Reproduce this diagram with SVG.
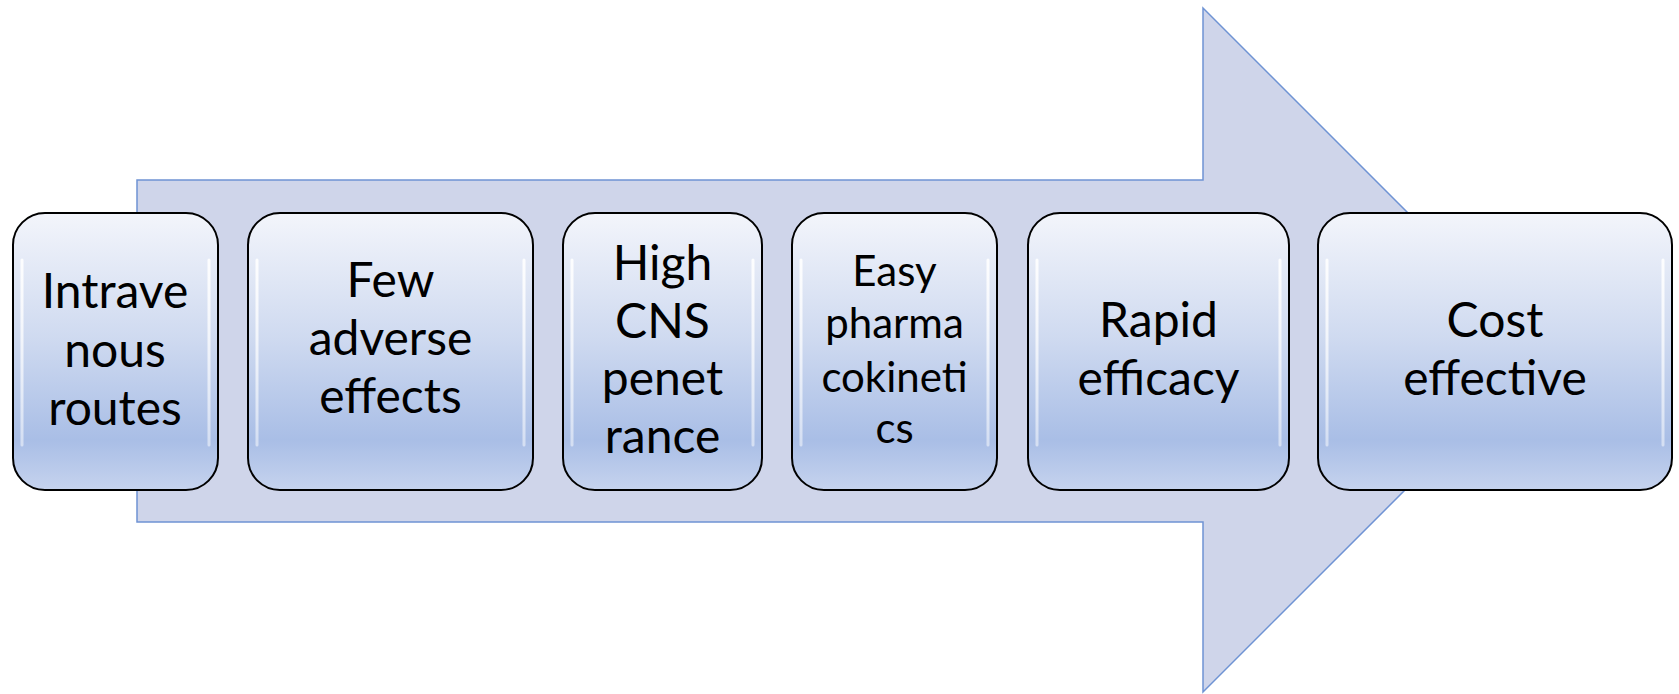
<svg xmlns="http://www.w3.org/2000/svg" width="1679" height="694" viewBox="0 0 1679 694">
<defs>
<linearGradient id="boxFill" x1="0" y1="0" x2="0" y2="1">
<stop offset="0" stop-color="#f3f5fb"/>
<stop offset="0.45" stop-color="#cfdaf0"/>
<stop offset="0.82" stop-color="#a9bee6"/>
<stop offset="1" stop-color="#c6d3ee"/>
</linearGradient>
<linearGradient id="shine" x1="0" y1="0" x2="0" y2="1">
<stop offset="0" stop-color="#ffffff" stop-opacity="0.9"/>
<stop offset="1" stop-color="#ffffff" stop-opacity="0.5"/>
</linearGradient>
</defs>
<style>
.arrow{fill:#cfd5ea;stroke:#6f93d4;stroke-width:1.5}
.box{fill:url(#boxFill);stroke:#000;stroke-width:2}
.hl{fill:none;stroke:url(#shine);stroke-width:3;stroke-linecap:round}
.t{font-family:Lato,"Liberation Sans",sans-serif;font-size:48px;fill:#000;text-anchor:middle}
.s{font-size:42px}
</style>
<g id="arrow">
<polygon class="arrow" points="137,180 1203,180 1203,8 1545,350 1203,692 1203,522 137,522"/>
</g>
<g id="node1">
<rect class="box" x="13" y="213" width="205" height="277" rx="32" ry="32"/>
<path class="hl" d="M22,260 L22,445 M209,260 L209,445"/>
<text class="t" x="115" y="308">Intrave</text>
<text class="t" x="115" y="367">nous</text>
<text class="t" x="115" y="425">routes</text>
</g>
<g id="node2">
<rect class="box" x="248" y="213" width="285" height="277" rx="32" ry="32"/>
<path class="hl" d="M257,260 L257,445 M524,260 L524,445"/>
<text class="t" x="390.5" y="297">Few</text>
<text class="t" x="390.5" y="355">adverse</text>
<text class="t" x="390.5" y="413">effects</text>
</g>
<g id="node3">
<rect class="box" x="563" y="213" width="199" height="277" rx="32" ry="32"/>
<path class="hl" d="M572,260 L572,445 M753,260 L753,445"/>
<text class="t" x="662.5" y="280">High</text>
<text class="t" x="662.5" y="338">CNS</text>
<text class="t" x="662.5" y="395">penet</text>
<text class="t" x="662.5" y="453">rance</text>
</g>
<g id="node4">
<rect class="box" x="792" y="213" width="205" height="277" rx="32" ry="32"/>
<path class="hl" d="M801,260 L801,445 M988,260 L988,445"/>
<text class="t s" x="894.5" y="286">Easy</text>
<text class="t s" x="894.5" y="338">pharma</text>
<text class="t s" x="894.5" y="392">cokineti</text>
<text class="t s" x="894.5" y="443">cs</text>
</g>
<g id="node5">
<rect class="box" x="1028" y="213" width="261" height="277" rx="32" ry="32"/>
<path class="hl" d="M1037,260 L1037,445 M1280,260 L1280,445"/>
<text class="t" x="1158.5" y="337">Rapid</text>
<text class="t" x="1158.5" y="395">efficacy</text>
</g>
<g id="node6">
<rect class="box" x="1318" y="213" width="354" height="277" rx="32" ry="32"/>
<path class="hl" d="M1327,260 L1327,445 M1663,260 L1663,445"/>
<text class="t" x="1495" y="337">Cost</text>
<text class="t" x="1495" y="395">effective</text>
</g>
</svg>
